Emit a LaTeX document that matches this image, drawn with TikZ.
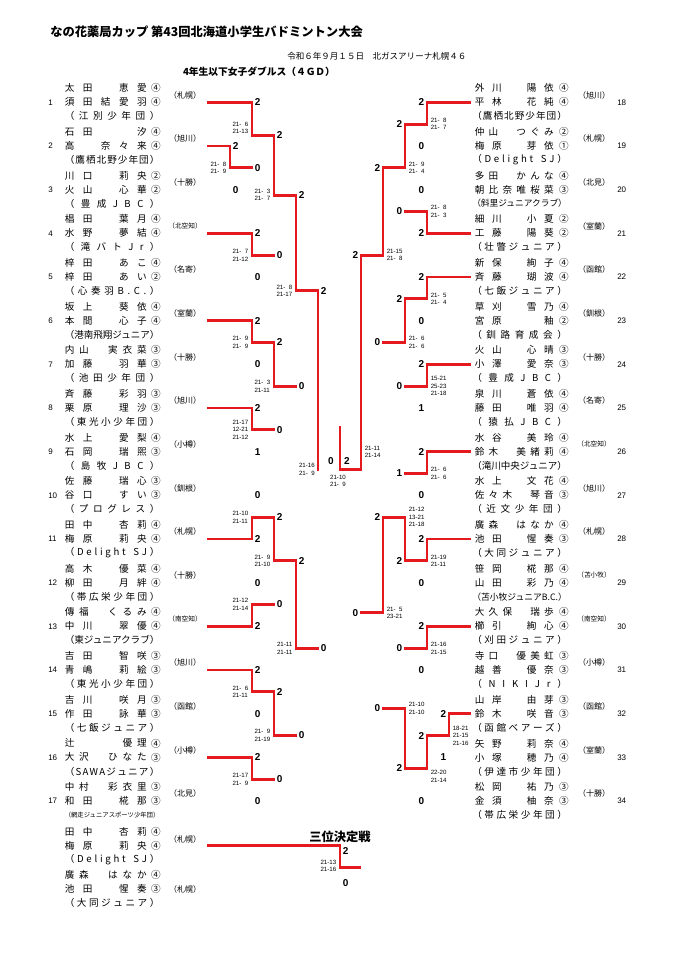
\documentclass[tikz,border=0pt]{standalone}
\usepackage{fontspec}
\usepackage{graphicx}
\setmainfont{Noto Sans CJK JP}
\newfontfamily\lat{Liberation Sans}
\usetikzlibrary{calc}
\pgfdeclarelayer{grayl}
\pgfsetlayers{grayl,main}
\definecolor{wred}{RGB}{228,26,30}
\definecolor{wgray}{RGB}{135,135,135}

\makeatletter
\def\spread#1{\spread@a#1\@nil}
\def\spread@a#1{#1\spread@b}
\def\spread@b#1{\ifx\@nil#1\else\hfill#1\expandafter\spread@b\fi}
\makeatother

\newcommand\fsName{\fontsize{7.2pt}{8pt}\selectfont}
\newcommand\fsReg{\fontsize{6pt}{7pt}\selectfont}
\newcommand\fsNum{\lat\fontsize{6pt}{7pt}\selectfont}
\newcommand\fsSc{\lat\bfseries\fontsize{7.5pt}{8pt}\selectfont}
\newcommand\fsGs{\lat\fontsize{4.6pt}{5.6pt}\selectfont}
\newcommand\pd{\phantom{0}}

\newcommand\nmL[1]{\makebox[61.5pt][s]{\spread{#1}}}
\newcommand\nmR[1]{\makebox[59.25pt][s]{\spread{#1}}}
\newcommand\clubbox[1]{\sbox0{#1}\ifdim\wd0>70pt\relax\resizebox{71pt}{!}{\usebox0}\else\makebox[71pt][s]{\spread{#1}}\fi}
\newcommand\regbox[1]{\sbox0{#1}\ifdim\wd0>25pt\relax\resizebox{25pt}{!}{\usebox0}\else\usebox0\fi}

\newcommand\Y[1]{(102.3+(#1-1)*43.67)}
\newcommand\YR[1]{(102.3+(#1-18)*43.67)}
\newcommand\Ym[1]{\csname ymX#1\endcsname}
\def\gdy{0}

\tikzset{
  gl/.style={draw=wgray, line width=0.75pt},
  rl/.style={draw=wred, line width=2.2pt, line cap=rect},
  txt/.style={inner sep=0pt, font=\fsName},
  regt/.style={inner sep=0pt, font=\fsReg},
  numt/.style={inner sep=0pt, font=\fsNum},
  sct/.style={inner sep=0pt, font=\fsSc},
  gst/.style={inner sep=0pt, font=\fsGs, align=left},
}

% left match
\newcommand\mL[9]{%
  \pgfmathsetmacro\ym{(#3+#4)/2}%
  \expandafter\xdef\csname ymX#1\endcsname{\ym}%
  \coordinate (M#1t) at (#2,{#3});
  \coordinate (M#1b) at (#2,{#4});
  \coordinate (M#1m) at (#2,\ym);
  \coordinate (M#1o) at (#5,\ym);
  \begin{pgfonlayer}{grayl}\draw[gl] (M#1t) -- (M#1b);\end{pgfonlayer}
  \draw[rl] (M#1#6) -- (M#1m) -- (M#1o);
  \node[sct,anchor=west] (M#1ts) at ($(M#1t)+(2.5,0)$) {#7};
  \node[sct,anchor=west] (M#1bs) at ($(M#1b)+(2.5,0)$) {#8};
  \node[gst,anchor=east] (M#1g) at ($(M#1m)+(-3.5,\gdy)$) {#9};
}
% right match
\newcommand\mR[9]{%
  \pgfmathsetmacro\ym{(#3+#4)/2}%
  \expandafter\xdef\csname ymX#1\endcsname{\ym}%
  \coordinate (M#1t) at (#2,{#3});
  \coordinate (M#1b) at (#2,{#4});
  \coordinate (M#1m) at (#2,\ym);
  \coordinate (M#1o) at (#5,\ym);
  \begin{pgfonlayer}{grayl}\draw[gl] (M#1t) -- (M#1b);\end{pgfonlayer}
  \draw[rl] (M#1#6) -- (M#1m) -- (M#1o);
  \node[sct,anchor=east] (M#1ts) at ($(M#1t)+(-2.5,0)$) {#7};
  \node[sct,anchor=east] (M#1bs) at ($(M#1b)+(-2.5,0)$) {#8};
  \node[gst,anchor=west] (M#1g) at ($(M#1m)+(3.5,\gdy)$) {#9};
}
% entry lines
\newcommand\lnL[3]{%
  \coordinate (L#1s) at (208,{\Y{#1}});
  \coordinate (L#1e) at (#2,{\Y{#1}});
  \ifx r#3\draw[rl] (L#1s) -- (L#1e);\else\begin{pgfonlayer}{grayl}\draw[gl] (L#1s) -- (L#1e);\end{pgfonlayer}\fi}
\newcommand\lnR[3]{%
  \coordinate (R#1s) at (470,{\YR{#1}});
  \coordinate (R#1e) at (#2,{\YR{#1}});
  \ifx r#3\draw[rl] (R#1s) -- (R#1e);\else\begin{pgfonlayer}{grayl}\draw[gl] (R#1s) -- (R#1e);\end{pgfonlayer}\fi}
% entry texts
\newcommand\entL[7]{%
  \pgfmathsetmacro\ey{\Y{#1}}%
  \node[txt,anchor=west] (L#1a) at (64.5,\ey-14) {\nmL{#2}};
  \node[txt] (L#1ac) at (156,\ey-14) {#3};
  \node[txt,anchor=west] (L#1b) at (64.5,\ey) {\nmL{#4}};
  \node[txt] (L#1bc) at (156,\ey) {#5};
  \node[txt,anchor=west] (L#1c) at (64.5,\ey+14) {\clubbox{#6}};
  \node[regt] (L#1r) at (185,\ey-7.3) {\regbox{#7}};
  \node[numt,anchor=west] (L#1n) at (48,\ey) {#1};
}
\newcommand\entR[7]{%
  \pgfmathsetmacro\ey{\YR{#1}}%
  \node[txt,anchor=west] (R#1a) at (474.5,\ey-14) {\nmR{#2}};
  \node[txt] (R#1ac) at (564,\ey-14) {#3};
  \node[txt,anchor=west] (R#1b) at (474.5,\ey) {\nmR{#4}};
  \node[txt] (R#1bc) at (564,\ey) {#5};
  \node[txt,anchor=west] (R#1c) at (472,\ey+14) {\clubbox{#6}};
  \node[regt] (R#1r) at (594,\ey-7.3) {\regbox{#7}};
  \node[numt,anchor=west] (R#1n) at (617,\ey) {#1};
}

\begin{document}
\begin{tikzpicture}[x=0.75pt,y=-0.75pt]
\useasboundingbox (0,0) rectangle (679,960);
\fill[white] (0,0) rectangle (679,960);

% headings
\node[inner sep=0pt,anchor=west,font=\bfseries\fontsize{9.2pt}{10pt}\selectfont] (title) at (50,31.7) {なの花薬局カップ 第43回北海道小学生バドミントン大会};
\node[inner sep=0pt,anchor=west,font=\fontsize{6.4pt}{7pt}\selectfont] (date) at (287,56.7) {令和６年９月１５日　北ガスアリーナ札幌４６};
\node[inner sep=0pt,font=\bfseries\fontsize{7.3pt}{8pt}\selectfont] (sub) at (259,71.7) {4年生以下女子ダブルス（４ＧＤ）};

% left entries
\entL{1}{太田　恵愛}{④}{須田結愛羽}{④}{（江別少年団）}{（札幌）}
\entL{2}{石田　　汐}{④}{高　奈々来}{④}{（鷹栖北野少年団）}{（旭川）}
\entL{3}{川口　莉央}{②}{火山　心華}{②}{（豊成JBC）}{（十勝）}
\entL{4}{椙田　葉月}{④}{水野　夢結}{④}{（滝バトJr）}{（北空知）}
\entL{5}{梓田　あこ}{④}{梓田　あい}{②}{（心奏羽B.C.）}{（名寄）}
\entL{6}{坂上　葵依}{④}{本間　心子}{④}{（港南飛翔ジュニア）}{（室蘭）}
\entL{7}{内山　実衣菜}{③}{加藤　羽華}{③}{（池田少年団）}{（十勝）}
\entL{8}{斉藤　彩羽}{③}{栗原　理沙}{③}{（東光小少年団）}{（旭川）}
\entL{9}{水上　愛梨}{④}{石岡　瑞煕}{③}{（島牧JBC）}{（小樽）}
\entL{10}{佐藤　瑞心}{③}{谷口　すい}{③}{（プログレス）}{（釧根）}
\entL{11}{田中　杏莉}{④}{梅原　莉央}{④}{（Delight~SJ）}{（札幌）}
\entL{12}{高木　優菜}{④}{柳田　月絆}{④}{（帯広栄少年団）}{（十勝）}
\entL{13}{傳福　くるみ}{④}{中川　翠優}{④}{（東ジュニアクラブ）}{（南空知）}
\entL{14}{吉田　智咲}{③}{青嶋　莉絵}{③}{（東光小少年団）}{（旭川）}
\entL{15}{吉川　咲月}{③}{作田　詠華}{③}{（七飯ジュニア）}{（函館）}
\entL{16}{辻　　　優理}{④}{大沢　ひなた}{③}{（SAWAジュニア）}{（小樽）}
\entL{17}{中村　彩衣里}{③}{和田　椛那}{③}{（網走ジュニアスポーツ少年団）}{（北見）}

% right entries
\entR{18}{外川　陽依}{④}{平林　花純}{④}{（鷹栖北野少年団）}{（旭川）}
\entR{19}{仲山　つぐみ}{②}{梅原　芽依}{①}{（Delight~SJ）}{（札幌）}
\entR{20}{多田　かんな}{④}{朝比奈唯桜菜}{③}{（斜里ジュニアクラブ）}{（北見）}
\entR{21}{細川　小夏}{②}{工藤　陽葵}{②}{（壮瞥ジュニア）}{（室蘭）}
\entR{22}{新保　絢子}{④}{斉藤　瑚波}{④}{（七飯ジュニア）}{（函館）}
\entR{23}{草刈　雪乃}{④}{宮原　　釉}{②}{（釧路育成会）}{（釧根）}
\entR{24}{火山　心晴}{③}{小澤　愛奈}{③}{（豊成JBC）}{（十勝）}
\entR{25}{泉川　蒼依}{④}{藤田　唯羽}{④}{（猿払JBC）}{（名寄）}
\entR{26}{水谷　美玲}{④}{鈴木　美緒莉}{④}{（滝川中央ジュニア）}{（北空知）}
\entR{27}{水上　文花}{④}{佐々木　琴音}{③}{（近文少年団）}{（旭川）}
\entR{28}{廣森　はなか}{④}{池田　惺奏}{③}{（大同ジュニア）}{（札幌）}
\entR{29}{笹岡　椛那}{④}{山田　彩乃}{④}{（苫小牧ジュニアB.C.）}{（苫小牧）}
\entR{30}{大久保　瑞歩}{④}{櫛引　絢心}{④}{（刈田ジュニア）}{（南空知）}
\entR{31}{寺口　優美虹}{③}{越善　優奈}{③}{（NIKIJr）}{（小樽）}
\entR{32}{山岸　由芽}{③}{鈴木　咲音}{③}{（函館ベアーズ）}{（函館）}
\entR{33}{矢野　莉奈}{④}{小塚　穂乃}{④}{（伊達市少年団）}{（室蘭）}
\entR{34}{松岡　祐乃}{③}{金須　柚奈}{③}{（帯広栄少年団）}{（十勝）}

% entry lines
\lnL{1}{252}{r}\lnL{2}{230}{r}\lnL{3}{230}{g}\lnL{4}{252}{r}\lnL{5}{252}{g}
\lnL{6}{252}{r}\lnL{7}{252}{g}\lnL{8}{252}{r}\lnL{9}{252}{g}\lnL{10}{252}{g}
\lnL{11}{252}{r}\lnL{12}{252}{g}\lnL{13}{252}{r}\lnL{14}{252}{r}\lnL{15}{252}{g}
\lnL{16}{252}{r}\lnL{17}{252}{g}
\lnR{18}{427}{r}\lnR{19}{427}{g}\lnR{20}{427}{g}\lnR{21}{427}{r}\lnR{22}{427}{r}
\lnR{23}{427}{g}\lnR{24}{427}{r}\lnR{25}{427}{g}\lnR{26}{427}{r}\lnR{27}{427}{g}
\lnR{28}{427}{r}\lnR{29}{427}{g}\lnR{30}{427}{r}\lnR{31}{427}{g}\lnR{32}{449}{r}
\lnR{33}{449}{g}\lnR{34}{427}{g}

% left matches
\mL{a}{230}{\Y{2}}{\Y{3}}{252}{t}{2}{0}{21-\pd8\\21-\pd9}
\def\gdy{-7}\mL{b}{252}{\Y{1}}{\Ym{a}}{274}{t}{2}{0}{21-\pd6\\21-13}\def\gdy{0}
\mL{c}{252}{\Y{4}}{\Y{5}}{274}{t}{2}{0}{21-\pd7\\21-12}
\mL{d}{274}{\Ym{b}}{\Ym{c}}{296}{t}{2}{0}{21-\pd3\\21-\pd7}
\mL{e}{252}{\Y{6}}{\Y{7}}{274}{t}{2}{0}{21-\pd9\\21-\pd9}
\mL{f}{252}{\Y{8}}{\Y{9}}{274}{t}{2}{1}{21-17\\12-21\\21-12}
\mL{g}{274}{\Ym{e}}{\Ym{f}}{296}{t}{2}{0}{21-\pd3\\21-11}
\mL{h}{296}{\Ym{d}}{\Ym{g}}{318}{t}{2}{0}{21-\pd8\\21-17}
\mL{i}{252}{\Y{10}}{\Y{11}}{274}{b}{0}{2}{21-10\\21-11}
\mL{j}{252}{\Y{12}}{\Y{13}}{274}{b}{0}{2}{21-12\\21-14}
\mL{k}{274}{\Ym{i}}{\Ym{j}}{296}{t}{2}{0}{21-\pd9\\21-10}
\mL{l}{252}{\Y{14}}{\Y{15}}{274}{t}{2}{0}{21-\pd6\\21-11}
\mL{m}{252}{\Y{16}}{\Y{17}}{274}{t}{2}{0}{21-17\\21-\pd9}
\mL{n}{274}{\Ym{l}}{\Ym{m}}{296}{t}{2}{0}{21-\pd9\\21-19}
\mL{o}{296}{\Ym{k}}{\Ym{n}}{318}{t}{2}{0}{21-11\\21-11}

% right matches
\mR{A}{427}{\YR{18}}{\YR{19}}{405}{t}{2}{0}{21-\pd8\\21-\pd7}
\mR{B}{427}{\YR{20}}{\YR{21}}{405}{b}{0}{2}{21-\pd8\\21-\pd3}
\mR{C}{405}{\Ym{A}}{\Ym{B}}{383}{t}{2}{0}{21-\pd9\\21-\pd4}
\mR{D}{427}{\YR{22}}{\YR{23}}{405}{t}{2}{0}{21-\pd5\\21-\pd4}
\mR{E}{427}{\YR{24}}{\YR{25}}{405}{t}{2}{1}{15-21\\25-23\\21-18}
\mR{F}{405}{\Ym{D}}{\Ym{E}}{383}{t}{2}{0}{21-\pd6\\21-\pd6}
\mR{G}{383}{\Ym{C}}{\Ym{F}}{361}{t}{2}{0}{21-15\\21-\pd8}
\mR{H}{427}{\YR{26}}{\YR{27}}{405}{t}{2}{0}{21-\pd6\\21-\pd6}
\mR{I}{427}{\YR{28}}{\YR{29}}{405}{t}{2}{0}{21-19\\21-11}
\mR{J}{405}{\Ym{H}}{\Ym{I}}{383}{b}{1}{2}{21-12\\13-21\\21-18}
\mR{K}{427}{\YR{30}}{\YR{31}}{405}{t}{2}{0}{21-16\\21-15}
\mR{L}{449}{\YR{32}}{\YR{33}}{427}{t}{2}{1}{18-21\\21-15\\21-16}
\def\gdy{8}\mR{M}{427}{\Ym{L}}{\YR{34}}{405}{t}{2}{0}{22-20\\21-14}\def\gdy{0}
\mR{N}{405}{\Ym{K}}{\Ym{M}}{383}{b}{0}{2}{21-10\\21-10}
\mR{O}{383}{\Ym{J}}{\Ym{N}}{361}{t}{2}{0}{21-\pd5\\23-21}

% semifinals and final
\pgfmathsetmacro\yf{(\Ym{h}+\Ym{o})/2}
\coordinate (SLt) at (318,{\Ym{h}});
\coordinate (SLb) at (318,{\Ym{o}});
\coordinate (SLm) at (318,\yf);
\coordinate (SRt) at (361,{\Ym{G}});
\coordinate (SRb) at (361,{\Ym{O}});
\coordinate (SRf) at (361,\yf);
\coordinate (Fc) at (340,\yf);
\coordinate (Fu) at (340,427);
\begin{pgfonlayer}{grayl}
\draw[gl] (SLt) -- (SLb);
\draw[gl] (SRt) -- (SRb);
\draw[gl] (SLm) -- (SRf);
\end{pgfonlayer}
\draw[rl] (SLt) -- (SLm);
\draw[rl] (SRt) -- (SRf) -- (Fc) -- (Fu);
\node[sct,anchor=west] (SLts) at ($(SLt)+(2.5,0)$) {2};
\node[sct,anchor=west] (SLbs) at ($(SLb)+(2.5,0)$) {0};
\node[gst,anchor=east] (SLg) at ($(SLm)+(-3,0)$) {21-16\\21-\pd9};
\node[sct,anchor=east] (SRts) at ($(SRt)+(-2.5,0)$) {2};
\node[sct,anchor=east] (SRbs) at ($(SRb)+(-2.5,0)$) {0};
\node[gst,anchor=west] (SRg) at ($(SRf)+(3.5,-17.7)$) {21-11\\21-14};
\node[sct] (FLs) at (331,461) {0};
\node[sct] (FRs) at (347,461) {2};
\node[gst] (Fg) at (338,481) {21-10\\21-\pd9};

% third place play-off
\node[inner sep=0pt,font=\bfseries\fontsize{9.2pt}{10pt}\selectfont] (third) at (340,837) {三位決定戦};
\node[txt,anchor=west] (T1a) at (64.5,832) {\nmL{田中　杏莉}};
\node[txt] (T1ac) at (156,832) {④};
\node[txt,anchor=west] (T1b) at (64.5,845.7) {\nmL{梅原　莉央}};
\node[txt] (T1bc) at (156,845.7) {④};
\node[txt,anchor=west] (T1c) at (64.5,860) {\clubbox{（Delight~SJ）}};
\node[regt] (T1r) at (185,839) {\regbox{（札幌）}};
\node[txt,anchor=west] (T2a) at (64.5,875) {\nmL{廣森　はなか}};
\node[txt] (T2ac) at (156,875) {④};
\node[txt,anchor=west] (T2b) at (64.5,889) {\nmL{池田　惺奏}};
\node[txt] (T2bc) at (156,889) {③};
\node[txt,anchor=west] (T2c) at (64.5,903) {\clubbox{（大同ジュニア）}};
\node[regt] (T2r) at (185,889) {\regbox{（札幌）}};
\coordinate (T1s) at (208,845.7);
\coordinate (T1e) at (340,845.7);
\coordinate (T2s) at (208,889);
\coordinate (T2e) at (340,889);
\coordinate (Tm) at (340,867.3);
\coordinate (To) at (360,867.3);
\begin{pgfonlayer}{grayl}
\draw[gl] (T2s) -- (T2e);
\draw[gl] (T1e) -- (T2e);
\end{pgfonlayer}
\draw[rl] (T1s) -- (T1e);
\draw[rl] (T1e) -- (Tm) -- (To);
\node[sct,anchor=west] (T1sc) at (342.5,851) {2};
\node[sct,anchor=west] (T2sc) at (342.5,883) {0};
\node[gst,anchor=east] (Tg) at (336.5,866) {21-13\\21-16};
\end{tikzpicture}
\end{document}
